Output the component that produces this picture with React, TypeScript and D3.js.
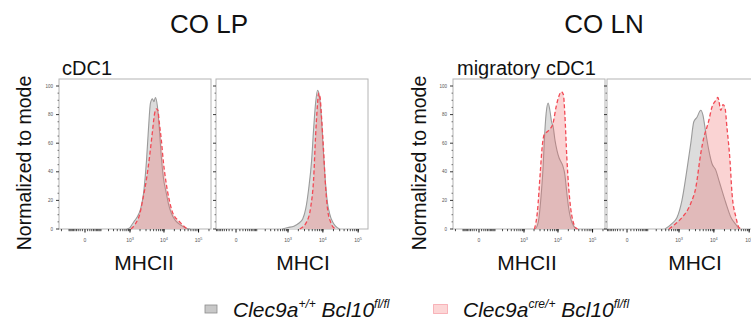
import * as d3 from "d3";

type Pt = [number, number];

// Colon lamina propria, cDC1, MHCII  [fluorescence, % of mode]
const lpMhc2Ctrl: Pt[] = [
  [800, 0], [1000, 1], [1140, 3], [1400, 6], [1700, 9], [2080, 14], [2540, 25],
  [3100, 48], [3540, 70], [4040, 88], [4620, 91], [5110, 89], [5640, 92],
  [6440, 86], [7360, 70], [8410, 50], [9610, 36], [11700, 25], [13400, 18],
  [16400, 11], [21340, 6], [26100, 4], [34000, 2], [44400, 0.5], [58000, 0],
];
const lpMhc2Cre: Pt[] = [
  [1070, 0], [1490, 4], [1940, 10], [2380, 20], [3100, 35], [3780, 50],
  [4620, 68], [5280, 80], [6030, 84], [6660, 83], [7360, 74], [8410, 62],
  [9610, 47], [10970, 36], [12540, 27], [14320, 20], [17500, 12], [21340, 8],
  [26100, 6], [34000, 3], [41500, 1], [50700, 0],
];

// Colon lamina propria, cDC1, MHCI
const lpMhc1Ctrl: Pt[] = [
  [680, 0], [1000, 1], [1480, 2], [2050, 4], [2660, 7], [3240, 14], [3940, 28],
  [4790, 48], [5460, 70], [6210, 88], [7080, 97], [8070, 92], [9190, 76],
  [10470, 52], [11920, 32], [13580, 18], [15470, 11], [18840, 5], [22930, 2],
  [29700, 0],
];
const lpMhc1Cre: Pt[] = [
  [2190, 0], [3450, 5], [4490, 15], [5460, 35], [6210, 65], [7080, 88],
  [7550, 95], [8330, 92], [9190, 78], [10470, 55], [11920, 30], [13580, 14],
  [16520, 5], [20090, 1], [24400, 0],
];

// Colon lymph node, migratory cDC1, MHCII
const lnMhc2Ctrl: Pt[] = [
  [2200, 0], [2680, 5], [3270, 25], [3730, 45], [3980, 60], [4540, 81],
  [5180, 88], [5910, 82], [6520, 75], [7200, 72], [8210, 62], [9360, 55],
  [10680, 50], [12180, 47], [13900, 44], [15850, 38], [18070, 25], [20610, 14],
  [23510, 7], [28650, 2], [34900, 0],
];
const lnMhc2Cre: Pt[] = [
  [2060, 0], [2510, 12], [3060, 40], [3490, 58], [3980, 66], [4850, 68],
  [5910, 70], [7200, 74], [8770, 85], [10680, 93], [12590, 96], [14360, 94],
  [15850, 80], [18070, 50], [20610, 28], [23510, 14], [26830, 6], [32700, 1],
  [37250, 0],
];

// Colon lymph node, migratory cDC1, MHCI
const lnMhc1Ctrl: Pt[] = [
  [380, 0], [630, 4], [875, 8], [1220, 20], [1690, 41], [2200, 60], [2680, 75],
  [3270, 78], [4250, 83], [4850, 80], [5910, 67], [7200, 55], [8770, 46],
  [11400, 41], [13900, 34], [16940, 27], [22000, 18], [30600, 8], [42500, 3],
  [51800, 0],
];
const lnMhc1Cre: Pt[] = [
  [500, 0], [820, 4], [1220, 8], [2200, 18], [3060, 29], [4250, 53], [5180, 64],
  [6310, 71], [7200, 76], [8770, 85], [11400, 90], [13000, 92], [15850, 83],
  [18070, 87], [20610, 85], [23510, 71], [28650, 48], [32700, 25], [42500, 8],
  [51800, 1], [63100, 0],
];

const yTicks = [0, 20, 40, 60, 80, 100];
const xMajor = [0, 1e3, 1e4, 1e5];
const xMajorLabels = [["0", ""], ["10", "3"], ["10", "4"], ["10", "5"]];
const legendItems = [
  { name: "Clec9a", sup1: "+/+", gene: "Bcl10", sup2: "fl/fl" },
  { name: "Clec9a", sup1: "cre/+", gene: "Bcl10", sup2: "fl/fl" },
];

// logicle-like display (symlog) per channel
const channels: Record<string, { c: number; min: number; max: number }> = {
  MHCII: { c: 53, min: -245, max: 228700 },
  MHCI: { c: 35, min: -94, max: 190000 },
};

const panels = [
  { left: 59, channel: "MHCII", ctrl: lpMhc2Ctrl, cre: lpMhc2Cre, yLabels: true, labelX: 144 },
  { left: 216, channel: "MHCI", ctrl: lpMhc1Ctrl, cre: lpMhc1Cre, yLabels: false, labelX: 303 },
  { left: 453, channel: "MHCII", ctrl: lnMhc2Ctrl, cre: lnMhc2Cre, yLabels: true, labelX: 527 },
  { left: 607, channel: "MHCI", ctrl: lnMhc1Ctrl, cre: lnMhc1Cre, yLabels: false, labelX: 695 },
];

const W = 751;
const H = 321;
const PW = 152;
const TOP = 79;
const BOTTOM = 229;
const FONT = "'Liberation Sans', Arial, Helvetica, sans-serif";

const minorX = (() => {
  const out: number[] = [];
  for (const dec of [10, 100, 1000, 10000, 100000]) {
    for (let k = 1; k <= 9; k++) {
      out.push(k * dec);
      if (dec < 1000) out.push(-k * dec);
    }
  }
  return out;
})();

const y = d3.scaleLinear().domain([0, 100]).range([BOTTOM, 86]);

const Panel = ({ p }: { p: (typeof panels)[number] }) => {
  const ch = channels[p.channel];
  const x = d3
    .scaleSymlog()
    .constant(ch.c)
    .domain([ch.min, ch.max])
    .range([p.left, p.left + PW]);
  const area = d3
    .area<Pt>()
    .x((d) => x(d[0]))
    .y0(y(0))
    .y1((d) => y(d[1]))
    .curve(d3.curveMonotoneX);
  const line = d3
    .line<Pt>()
    .x((d) => x(d[0]))
    .y((d) => y(d[1]))
    .curve(d3.curveMonotoneX);
  const minorY = d3.range(0, 101, 5).filter((v) => v % 20 !== 0);
  return (
    <g>
      <rect x={p.left} y={TOP} width={PW} height={BOTTOM - TOP} fill="#fff" stroke="#b4b4b4" strokeWidth={1} />
      <path d={area(p.ctrl) ?? ""} fill="#dcdcdc" />
      <path d={line(p.ctrl) ?? ""} fill="none" stroke="#9a9a9a" strokeWidth={1.1} />
      <path d={area(p.cre) ?? ""} fill="rgb(240,110,110)" fillOpacity={0.3} />
      <path d={line(p.cre) ?? ""} fill="none" stroke="#f24a55" strokeWidth={1.3} strokeDasharray="4,2.5" />
      {/* y ticks */}
      {yTicks.map((t) => (
        <line key={"y" + t} x1={p.left - 3} x2={p.left} y1={y(t)} y2={y(t)} stroke="#222" strokeWidth={0.9} />
      ))}
      {minorY.map((t) => (
        <line key={"ym" + t} x1={p.left - 1.5} x2={p.left} y1={y(t)} y2={y(t)} stroke="#444" strokeWidth={0.7} />
      ))}
      {p.yLabels &&
        yTicks.map((t) => (
          <text key={"yl" + t} x={p.left - 6} y={y(t) + 1.6} fontSize={4.5} fill="#555" textAnchor="end" fontFamily={FONT}>
            {t}
          </text>
        ))}
      {/* x ticks */}
      {minorX
        .filter((v) => v > ch.min && v < ch.max)
        .map((v) => (
          <line key={"xm" + v} x1={x(v)} x2={x(v)} y1={BOTTOM} y2={BOTTOM + 2.2} stroke="#222" strokeWidth={0.8} />
        ))}
      {xMajor.map((v, i) => (
        <g key={"x" + v}>
          <line x1={x(v)} x2={x(v)} y1={BOTTOM} y2={BOTTOM + 3.5} stroke="#111" strokeWidth={1} />
          <text x={x(v)} y={BOTTOM + 13} fontSize={5} fill="#555" textAnchor="middle" fontFamily={FONT}>
            {xMajorLabels[i][0]}
            {xMajorLabels[i][1] && (
              <tspan fontSize={3.8} dy={-2.2}>
                {xMajorLabels[i][1]}
              </tspan>
            )}
          </text>
        </g>
      ))}
      <text x={p.labelX} y={270} fontSize={21} fill="#111" textAnchor="middle" fontFamily={FONT}>
        {p.channel}
      </text>
    </g>
  );
};

const App = () => {
  return (
    <svg
      width={W}
      height={H}
      style={{ position: "absolute", left: 0, top: 0, display: "block", background: "#fff" }}
    >
      <text x={209} y={33} fontSize={26} fill="#111" textAnchor="middle" fontFamily={FONT}>
        CO LP
      </text>
      <text x={604} y={33} fontSize={26} fill="#111" textAnchor="middle" fontFamily={FONT}>
        CO LN
      </text>
      <text x={62} y={75} fontSize={20} fill="#111" fontFamily={FONT}>
        cDC1
      </text>
      <text x={457} y={75} fontSize={20} fill="#111" fontFamily={FONT}>
        migratory cDC1
      </text>
      {[31, 426].map((bx) => (
        <text
          key={bx}
          transform={`translate(${bx}, 163) rotate(-90)`}
          fontSize={19.5}
          fill="#111"
          textAnchor="middle"
          fontFamily={FONT}
        >
          Normalized to mode
        </text>
      ))}
      {panels.map((p, i) => (
        <Panel key={i} p={p} />
      ))}
      {/* legend */}
      <rect x={205} y={305} width={12} height={8} fill="#c8c8c8" stroke="#8c8c8c" strokeWidth={0.8} />
      <rect x={433.5} y={304.5} width={14} height={9} fill="#fcd6d6" stroke="#f06070" strokeWidth={0.8} strokeDasharray="1,1" />
      {legendItems.map((it, i) => (
        <text key={i} x={i === 0 ? 233 : 463} y={317} fontSize={21} fill="#111" fontStyle="italic" fontFamily={FONT}>
          {it.name}
          <tspan fontSize={12} dy={-9}>
            {it.sup1}
          </tspan>
          <tspan dy={9}> {it.gene}</tspan>
          <tspan fontSize={12} dy={-9}>
            {it.sup2}
          </tspan>
        </text>
      ))}
    </svg>
  );
};

export default App;
